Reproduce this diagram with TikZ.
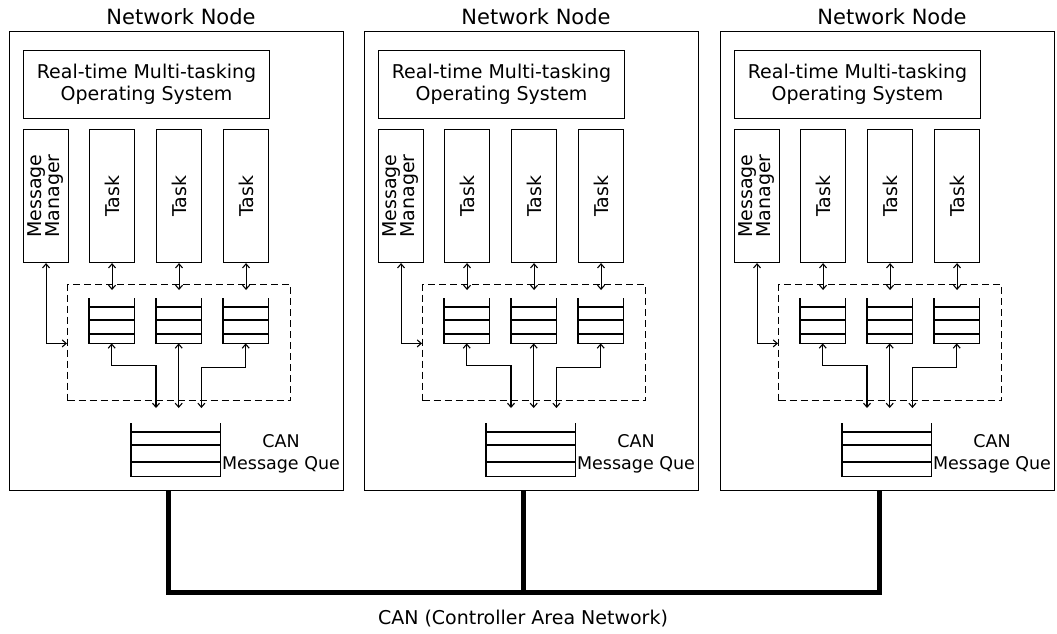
\documentclass[tikz,border=0pt]{standalone}
\usepackage{fontspec}
\setmainfont{DejaVu Sans}
\usepackage{graphicx}
\usetikzlibrary{arrows.meta,calc}

\begin{document}
\begin{tikzpicture}[x=1pt,y=-1pt,
  box/.style={draw,line width=1.1pt,inner sep=0pt,anchor=north west},
  dashbox/.style={draw,line width=1.1pt,inner sep=0pt,anchor=north west,dash pattern=on 7pt off 4pt},
  slot/.style={inner sep=0pt,anchor=north west},
  qline/.style={line width=1.2pt},
  dbl/.style={line width=1.1pt,{Straight Barb[length=4pt,width=7pt]}-{Straight Barb[length=4pt,width=7pt]}},
  bus/.style={line width=5pt},
  titletext/.style={font=\fontsize{21}{24}\selectfont,inner sep=0pt},
  txt/.style={font=\fontsize{19}{22}\selectfont,align=center},
  lbl/.style={font=\fontsize{19}{22}\selectfont,align=center,inner sep=0pt},
  quelbl/.style={font=\fontsize{17.5}{22}\selectfont,align=center,inner sep=0pt}]

\path[fill=white,use as bounding box] (0,0) rectangle (1057,633);

\foreach \i/\x in {1/9,2/364,3/720}{
  % node frame and title
  \node[titletext] (ttl\i) at (\x+172,17) {Network Node};
  \node[box,minimum width=334pt,minimum height=459pt] (nd\i) at (\x,30.5) {};
  % operating system, message manager and tasks
  \node[box,txt,minimum width=246pt,minimum height=68pt] (os\i) at (\x+14,50)
    {Real-time Multi-tasking\\Operating System};
  \node[box,txt,minimum width=45pt,minimum height=133pt] (mm\i) at (\x+14,129)
    {\makebox[0pt]{\rotatebox{90}{\fontsize{19}{21}\selectfont\begin{tabular}{@{}c@{}}Message\\[-3pt]Manager\end{tabular}}}};
  \node[box,txt,minimum width=45pt,minimum height=133pt] (ta\i) at (\x+80,129) {\rotatebox{90}{Task}};
  \node[box,txt,minimum width=45pt,minimum height=133pt] (tb\i) at (\x+147,129) {\rotatebox{90}{Task}};
  \node[box,txt,minimum width=45pt,minimum height=133pt] (tc\i) at (\x+214,129) {\rotatebox{90}{Task}};
  % task message queues
  \node[dashbox,minimum width=223pt,minimum height=116pt] (dq\i) at (\x+58,284) {};
  \node[slot,minimum width=45pt,minimum height=45pt] (qa\i) at (\x+80,298) {};
  \node[slot,minimum width=45pt,minimum height=45pt] (qb\i) at (\x+147,298) {};
  \node[slot,minimum width=45pt,minimum height=45pt] (qc\i) at (\x+214,298) {};
  \foreach \q in {qa,qb,qc}{
    \draw[qline] (\q\i.north west) -- (\q\i.south west) -- (\q\i.south east) -- (\q\i.north east);
    \foreach \f in {9,22,36}
      \draw[qline] ($(\q\i.north west)+(0,\f)$) -- ($(\q\i.north east)+(0,\f)$);
  }
  % CAN message queue
  \node[slot,minimum width=89pt,minimum height=53pt] (cq\i) at (\x+122,423) {};
  \draw[qline] (cq\i.north west) -- (cq\i.south west) -- (cq\i.south east) -- (cq\i.north east);
  \foreach \f in {9,22,39}
    \draw[qline] ($(cq\i.north west)+(0,\f)$) -- ($(cq\i.north east)+(0,\f)$);
  \node[quelbl] (cql\i) at (\x+272,454) {CAN\\Message Que};
  % connectors
  \draw[dbl] (ta\i.south) -- ($(ta\i.south |- dq\i.north)+(0,6)$);
  \draw[dbl] (tb\i.south) -- ($(tb\i.south |- dq\i.north)+(0,6)$);
  \draw[dbl] (tc\i.south) -- ($(tc\i.south |- dq\i.north)+(0,6)$);
  \draw[dbl] (mm\i.south) |- (dq\i.west |- qa\i.south);
  \draw[dbl] (qa\i.south) -- ++(0,22) -| ($(qb\i.south west |- cq\i.north)+(0,-15)$);
  \draw[dbl] (qb\i.south) -- ($(qb\i.south |- cq\i.north)+(0,-15)$);
  \draw[dbl] (qc\i.south) -- ++(0,24) -| ($(qb\i.south east |- cq\i.north)+(0,-15)$);
  \coordinate (bus\i) at (\x+159,592);
}

% CAN bus
\draw[bus] (bus1 |- nd1.south) -- (bus1) -- (bus3) -- (bus3 |- nd3.south);
\draw[bus] (bus2 |- nd2.south) -- (bus2);
\node[lbl] (canlbl) at (523,619) {CAN (Controller Area Network)};
\end{tikzpicture}
\end{document}
